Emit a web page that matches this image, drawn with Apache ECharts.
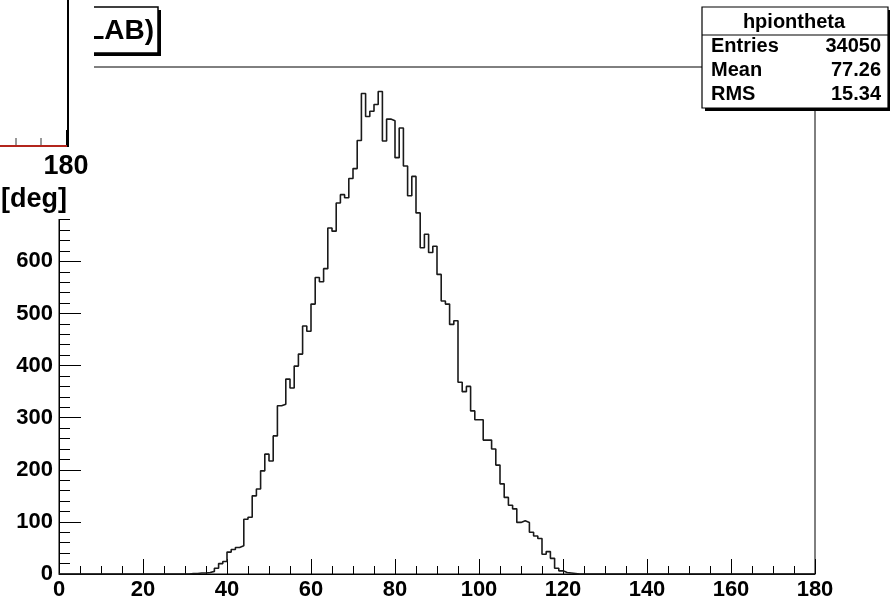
<!DOCTYPE html>
<html>
<head>
<meta charset="utf-8">
<script src="https://cdn.jsdelivr.net/npm/echarts@6/dist/echarts.min.js"></script>
<style>html,body{margin:0;padding:0;background:#fff;}#c{width:890px;height:601px;}</style>
</head>
<body>
<div id="c"></div>
<script>
// histogram: 1-degree bins, first listed bin starts at binLo
const binLo = 31;
const counts = [1,1,2,2,
  3,5,11,20,24, 42,47,51,54,105, 109,150,163,198,230, 217,265,323,326,374,
  357,399,422,476,466, 518,569,561,586,664, 658,712,728,722,759, 778,832,922,878,888,
  901,926,831,873,870, 799,856,783,726,763, 693,626,652,617,629, 575,524,518,479,486,
  368,350,360,313,296, 296,257,257,240,209, 173,147,132,125,99, 102,99,80,73,68,
  38,43,30,11,6, 3,2,1];
const xRange = [0, 180];
const yMax = 973;
const statsTitle = 'hpiontheta';
const statsLabels = ['Entries', 'Mean', 'RMS'];
const statsValues = ['34050', '77.26', '15.34'];
const titleText = 'θ (LAB)';
const padLabels = ['180', '[deg]'];

const data = [];
for (let k = xRange[0]; k < xRange[1]; k++) {
  const i = k - binLo;
  data.push([k, (i >= 0 && i < counts.length) ? counts[i] : 0]);
}
data.push([xRange[1], 0]);

const FONT = 'Liberation Sans, Arial, Helvetica, sans-serif';
const chart = echarts.init(document.getElementById('c'), null, {renderer: 'canvas'});

const graphics = [];
// title box (shadow + box + text), partly hidden by overlapping pad
graphics.push({type: 'rect', z: 100, shape: {x: 3, y: 10, width: 158, height: 46}, style: {fill: '#000'}});
graphics.push({type: 'rect', z: 101, shape: {x: 0, y: 7, width: 158, height: 46}, style: {fill: '#fff', stroke: '#000', lineWidth: 1.5}});
graphics.push({type: 'text', z: 102, x: 154, y: 31, style: {text: titleText, fill: '#000', font: 'bold 28px ' + FONT, align: 'right', verticalAlign: 'middle'}});
// stats box
graphics.push({type: 'rect', z: 100, shape: {x: 705, y: 10, width: 186, height: 101}, style: {fill: '#000'}});
graphics.push({type: 'rect', z: 101, shape: {x: 702, y: 7, width: 186, height: 101}, style: {fill: '#fff', stroke: '#000', lineWidth: 1.2}});
graphics.push({type: 'line', z: 102, shape: {x1: 702, y1: 35, x2: 888, y2: 35}, style: {stroke: '#000', lineWidth: 1.2}});
graphics.push({type: 'text', z: 102, x: 794, y: 22, style: {text: statsTitle, fill: '#000', font: 'bold 20px ' + FONT, align: 'center', verticalAlign: 'middle'}});
statsLabels.forEach((lab, i) => {
  const y = 46 + i * 24;
  graphics.push({type: 'text', z: 102, x: 711, y: y, style: {text: lab, fill: '#000', font: 'bold 20px ' + FONT, align: 'left', verticalAlign: 'middle'}});
  graphics.push({type: 'text', z: 102, x: 881, y: y, style: {text: statsValues[i], fill: '#000', font: 'bold 20px ' + FONT, align: 'right', verticalAlign: 'middle'}});
});
// overlapping pad in the top-left corner
graphics.push({type: 'rect', z: 200, shape: {x: 0, y: 0, width: 94, height: 219}, style: {fill: '#fff'}});
graphics.push({type: 'line', z: 201, shape: {x1: 0, y1: 146, x2: 68, y2: 146}, style: {stroke: '#b3251c', lineWidth: 2}});
graphics.push({type: 'line', z: 202, shape: {x1: 68, y1: 0, x2: 68, y2: 147}, style: {stroke: '#000', lineWidth: 2}});
[16, 41].forEach(x => graphics.push({type: 'line', z: 202, shape: {x1: x, y1: 145, x2: x, y2: 138}, style: {stroke: '#333', lineWidth: 1}}));
graphics.push({type: 'line', z: 202, shape: {x1: 67, y1: 145, x2: 67, y2: 130}, style: {stroke: '#000', lineWidth: 2}});
graphics.push({type: 'text', z: 202, x: 66, y: 167, style: {text: padLabels[0], fill: '#000', font: 'bold 27px ' + FONT, align: 'center', verticalAlign: 'middle'}});
graphics.push({type: 'text', z: 202, x: 67, y: 200, style: {text: padLabels[1], fill: '#000', font: 'bold 27px ' + FONT, align: 'right', verticalAlign: 'middle'}});

const axisLabelStyle = {color: '#000', fontFamily: FONT, fontWeight: 'bold', fontSize: 22};

chart.setOption({
  animation: false,
  backgroundColor: '#fff',
  grid: {left: 59, right: 75, top: 67, bottom: 26, show: true, borderColor: '#000', borderWidth: 1, backgroundColor: 'transparent'},
  xAxis: {
    type: 'value', min: xRange[0], max: xRange[1], interval: 20,
    axisLine: {show: true, onZero: false, lineStyle: {color: '#000', width: 1}},
    axisTick: {show: true, inside: true, length: 15, lineStyle: {color: '#000', width: 1}},
    minorTick: {show: true, splitNumber: 4, length: 8, lineStyle: {color: '#000', width: 1}},
    splitLine: {show: false},
    axisLabel: Object.assign({margin: 5, showMaxLabel: true, showMinLabel: true}, axisLabelStyle)
  },
  yAxis: {
    type: 'value', min: 0, max: yMax, interval: 100,
    axisLine: {show: true, lineStyle: {color: '#000', width: 1}},
    axisTick: {show: true, inside: true, length: 22, lineStyle: {color: '#000', width: 1}},
    minorTick: {show: true, splitNumber: 5, length: 11, lineStyle: {color: '#000', width: 1}},
    splitLine: {show: false},
    axisLabel: Object.assign({margin: 6}, axisLabelStyle)
  },
  series: [{
    type: 'line', step: 'end', data: data, showSymbol: false, symbol: 'none',
    lineStyle: {color: '#1a1a1a', width: 1.6}, z: 5
  }],
  graphic: {elements: graphics}
});
</script>
</body>
</html>
